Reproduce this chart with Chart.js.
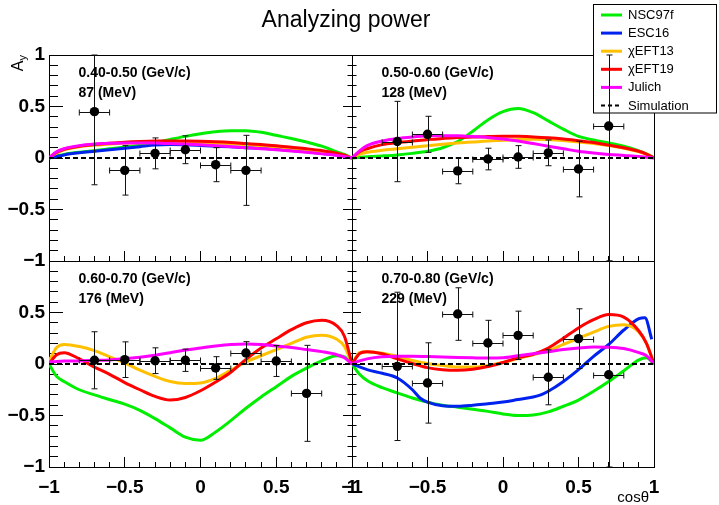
<!DOCTYPE html>
<html>
<head>
<meta charset="utf-8">
<title>Analyzing power</title>
<script src="https://cdn.jsdelivr.net/npm/chart.js@4.4.1/dist/chart.umd.min.js"></script>
<style>
  html, body { margin: 0; padding: 0; background: #fff; }
  #wrap { position: relative; width: 719px; height: 505px; overflow: hidden; font-family: 'Liberation Sans', Arial, sans-serif; color: #000; }
  #wrap canvas { position: absolute; left: 0; top: 0; }
  .txt { position: absolute; white-space: nowrap; line-height: 1; }
  .lab { font-size: 14px; font-weight: bold; }
</style>
</head>
<body>
<div id="wrap">
  <canvas id="p0" width="719" height="505"></canvas>
  <canvas id="p1" width="719" height="505"></canvas>
  <canvas id="p2" width="719" height="505"></canvas>
  <canvas id="p3" width="719" height="505"></canvas>
  <div class="txt" style="left:0;width:692px;top:8px;text-align:center;font-size:23px">Analyzing power</div>
  <div class="txt" style="left:9.8px;top:115px;width:60px;text-align:right;font-size:16px;line-height:16px;transform-origin:0 0;transform:rotate(-90deg)">A<span style="font-size:11px;position:relative;top:3px">y</span></div>
  <div class="txt" style="right:70px;top:489px;font-size:15px">cosθ</div>
</div>
<script>
// ---- data ----
const cosBins = [-0.7, -0.5, -0.3, -0.1, 0.1, 0.3, 0.5, 0.7];
const halfBin = 0.1;

const ay1 = [0.45, -0.12, 0.045, 0.08, -0.065, -0.12];
const err1 = [0.71, 0.24, 0.15, 0.135, 0.165, 0.34];
const ay2 = [0.16, 0.23, -0.125, -0.01, 0.01, 0.05, -0.107, 0.31];
const err2 = [0.39, 0.175, 0.125, 0.105, 0.11, 0.125, 0.27, 1.4];
const ay3 = [0.036, 0.042, 0.032, 0.036, -0.039, 0.107, 0.029, -0.285];
const err3 = [0.277, 0.173, 0.125, 0.108, 0.11, 0.11, 0.15, 0.466];
const ay4 = [-0.023, -0.184, 0.485, 0.204, 0.278, -0.129, 0.246, -0.104];
const err4 = [0.72, 0.39, 0.255, 0.22, 0.235, 0.267, 0.29, 1.25];

// model curves, sampled at these cos(theta) values
const grid = [-1, -0.95, -0.9, -0.8, -0.7, -0.6, -0.5, -0.4, -0.3, -0.2, -0.1, 0, 0.1, 0.2, 0.3, 0.4, 0.5, 0.6, 0.7, 0.8, 0.9, 0.95, 1];

const nsc1 = [0, 0.02, 0.035, 0.055, 0.07, 0.09, 0.105, 0.125, 0.15, 0.18, 0.21, 0.235, 0.255, 0.265, 0.265, 0.25, 0.22, 0.19, 0.155, 0.115, 0.06, 0.035, 0];
const esc1 = [0, 0.015, 0.03, 0.05, 0.065, 0.08, 0.095, 0.11, 0.125, 0.13, 0.128, 0.122, 0.115, 0.108, 0.1, 0.093, 0.085, 0.072, 0.06, 0.045, 0.028, 0.015, 0];
const eft13_1 = [0, 0.05, 0.08, 0.11, 0.125, 0.135, 0.145, 0.15, 0.155, 0.155, 0.155, 0.15, 0.145, 0.138, 0.13, 0.12, 0.11, 0.095, 0.08, 0.062, 0.04, 0.022, 0];
const eft19_1 = [0, 0.055, 0.085, 0.115, 0.13, 0.143, 0.153, 0.16, 0.165, 0.166, 0.165, 0.162, 0.157, 0.15, 0.14, 0.13, 0.12, 0.105, 0.09, 0.072, 0.047, 0.027, 0];
const jul1 = [0, 0.06, 0.09, 0.12, 0.135, 0.142, 0.145, 0.146, 0.145, 0.14, 0.135, 0.128, 0.12, 0.11, 0.1, 0.09, 0.08, 0.068, 0.055, 0.04, 0.025, 0.014, 0];

const nsc2 = [0, 0.008, 0.012, 0.02, 0.03, 0.045, 0.065, 0.1, 0.16, 0.26, 0.37, 0.45, 0.48, 0.44, 0.36, 0.28, 0.21, 0.175, 0.145, 0.115, 0.07, 0.04, 0];
const eft13_2 = [0, 0.035, 0.055, 0.075, 0.09, 0.105, 0.12, 0.133, 0.145, 0.155, 0.165, 0.172, 0.18, 0.182, 0.18, 0.17, 0.155, 0.14, 0.12, 0.095, 0.06, 0.035, 0];
const eft19_2 = [0, 0.06, 0.09, 0.13, 0.15, 0.165, 0.178, 0.19, 0.198, 0.205, 0.208, 0.21, 0.21, 0.205, 0.197, 0.185, 0.168, 0.15, 0.125, 0.1, 0.065, 0.038, 0];
const jul2 = [0, 0.07, 0.12, 0.165, 0.19, 0.205, 0.215, 0.217, 0.215, 0.208, 0.2, 0.185, 0.165, 0.14, 0.115, 0.09, 0.065, 0.048, 0.035, 0.025, 0.015, 0.008, 0];

const nsc3 = [0, -0.12, -0.17, -0.25, -0.3, -0.345, -0.39, -0.45, -0.53, -0.62, -0.71, -0.74, -0.66, -0.55, -0.43, -0.32, -0.22, -0.12, -0.04, 0.03, 0.08, 0.07, 0];
const eft13_3 = [0.03, 0.16, 0.19, 0.17, 0.13, 0.07, 0.01, -0.06, -0.12, -0.17, -0.19, -0.185, -0.14, -0.06, 0.02, 0.08, 0.14, 0.2, 0.26, 0.28, 0.24, 0.17, 0];
const eft19_3 = [0, 0.09, 0.11, 0.05, -0.03, -0.1, -0.18, -0.25, -0.315, -0.35, -0.325, -0.26, -0.175, -0.08, 0.045, 0.155, 0.245, 0.333, 0.4, 0.424, 0.37, 0.27, 0];
const jul3 = [0.02, 0.025, 0.028, 0.03, 0.035, 0.04, 0.05, 0.065, 0.085, 0.11, 0.135, 0.155, 0.175, 0.19, 0.195, 0.19, 0.175, 0.16, 0.14, 0.12, 0.09, 0.06, 0];

const nsc4 = [0, -0.1, -0.16, -0.23, -0.28, -0.33, -0.37, -0.4, -0.42, -0.44, -0.46, -0.485, -0.5, -0.495, -0.465, -0.41, -0.35, -0.265, -0.17, -0.065, 0.04, 0.06, 0];
const escX4 = [-1, -0.9, -0.8, -0.7, -0.6, -0.55, -0.5, -0.4, -0.3, -0.2, -0.1, 0, 0.1, 0.2, 0.25, 0.3, 0.4, 0.5, 0.6, 0.7, 0.8, 0.9, 0.94, 0.985];
const esc4 = [0, -0.055, -0.09, -0.136, -0.25, -0.33, -0.37, -0.405, -0.41, -0.4, -0.385, -0.37, -0.345, -0.32, -0.3, -0.265, -0.17, -0.055, 0.074, 0.19, 0.33, 0.44, 0.45, 0.24];
const eft13_4 = [0, 0.11, 0.12, 0.105, 0.075, 0.035, 0.005, -0.015, -0.03, -0.03, -0.015, 0.015, 0.055, 0.09, 0.13, 0.19, 0.25, 0.31, 0.365, 0.38, 0.31, 0.2, 0];
const eft19_4 = [0, 0.1, 0.12, 0.1, 0.05, 0.005, -0.035, -0.055, -0.06, -0.05, -0.025, 0.015, 0.06, 0.095, 0.155, 0.25, 0.35, 0.43, 0.48, 0.455, 0.32, 0.2, 0];
const jul4 = [0, 0.03, 0.05, 0.07, 0.075, 0.075, 0.072, 0.068, 0.063, 0.06, 0.058, 0.06, 0.08, 0.1, 0.12, 0.14, 0.155, 0.165, 0.163, 0.15, 0.11, 0.08, 0];

const simX = [-1, 1];
const simY = [0, 0];

const models = ['NSC97f', 'ESC16', 'χEFT13', 'χEFT19', 'Julich'];
const modelColors = ['#00ee00', '#0022ee', '#ffc000', '#ff0000', '#ff00ff'];
const momBins = ['0.40-0.50 (GeV/c)', '0.50-0.60 (GeV/c)', '0.60-0.70 (GeV/c)', '0.70-0.80 (GeV/c)'];
const energies = ['87 (MeV)', '128 (MeV)', '176 (MeV)', '229 (MeV)'];

const xTickVals = [-1, -0.5, 0, 0.5, 1];
const xTickText = ['\u22121', '\u22120.5', '0', '0.5', '1'];
const yTickVals = [-1, -0.5, 0, 0.5, 1];
const yTickText = ['\u22121', '\u22120.5', '0', '0.5', '1'];

// ---- panels ----
const W = 719, H = 505;
const frames = [[49, 55, 352, 261], [352, 55, 654, 261], [49, 261, 352, 467], [352, 261, 654, 467]];
const panels = [
  {bins: cosBins.slice(0, 6), ay: ay1, err: err1, curves: [[grid, nsc1], [grid, esc1], [grid, eft13_1], [grid, eft19_1], [grid, jul1]]},
  {bins: cosBins, ay: ay2, err: err2, curves: [[grid, nsc2], null, [grid, eft13_2], [grid, eft19_2], [grid, jul2]]},
  {bins: cosBins, ay: ay3, err: err3, curves: [[grid, nsc3], null, [grid, eft13_3], [grid, eft19_3], [grid, jul3]]},
  {bins: cosBins, ay: ay4, err: err4, curves: [[grid, nsc4], [escX4, esc4], [grid, eft13_4], [grid, eft19_4], [grid, jul4]]}
];

const tickFont = {family: "'Liberation Sans', Arial, sans-serif", size: 19, weight: 'bold'};

function pairs(xs, ys) {
  return xs.map((x, i) => ({x: x, y: ys[i]}));
}

// error bars with end caps, drawn under the markers
const errorBars = {
  id: 'errorBars',
  beforeDatasetDraw(chart, args) {
    const ds = chart.data.datasets[args.index];
    if (!ds.yErr) return;
    const ctx = chart.ctx, a = chart.chartArea;
    const xs = chart.scales.x, ys = chart.scales.y;
    const cl = v => Math.min(Math.max(v, a.top), a.bottom);
    ctx.save();
    ctx.strokeStyle = '#111';
    ctx.lineWidth = 1;
    ctx.beginPath();
    ds.data.forEach((p, i) => {
      const px = Math.round(xs.getPixelForValue(p.x)) + 0.5;
      const py = Math.round(ys.getPixelForValue(p.y)) + 0.5;
      const xl = xs.getPixelForValue(p.x - ds.xErr[i]);
      const xr = xs.getPixelForValue(p.x + ds.xErr[i]);
      const yt = cl(ys.getPixelForValue(p.y + ds.yErr[i]));
      const yb = cl(ys.getPixelForValue(p.y - ds.yErr[i]));
      ctx.moveTo(xl, py); ctx.lineTo(xr, py);
      ctx.moveTo(xl, py - 3); ctx.lineTo(xl, py + 3);
      ctx.moveTo(xr, py - 3); ctx.lineTo(xr, py + 3);
      ctx.moveTo(px, yt); ctx.lineTo(px, yb);
      ctx.moveTo(px - 3, yt); ctx.lineTo(px + 3, yt);
      ctx.moveTo(px - 3, yb); ctx.lineTo(px + 3, yb);
    });
    ctx.stroke();
    ctx.restore();
  }
};

// ROOT-like legend box in the top right corner
const legendBox = {
  id: 'legendBox',
  beforeDatasetsDraw(chart) {
    const ctx = chart.ctx;
    ctx.save();
    ctx.fillStyle = '#fff';
    ctx.fillRect(593.5, 4.5, 123, 108.5);
    ctx.strokeStyle = '#000';
    ctx.lineWidth = 1;
    ctx.strokeRect(593.5, 4.5, 123, 108.5);
    const rows = models.concat(['Simulation']);
    rows.forEach((name, i) => {
      const cy = 15 + i * 18.1;
      ctx.strokeStyle = i < 5 ? modelColors[i] : '#000';
      ctx.lineWidth = i < 5 ? 3 : 2;
      ctx.setLineDash(i < 5 ? [] : [4, 3]);
      ctx.beginPath();
      ctx.moveTo(601, cy);
      ctx.lineTo(622, cy);
      ctx.stroke();
      ctx.setLineDash([]);
      ctx.fillStyle = '#000';
      ctx.font = "13px 'Liberation Sans', Arial, sans-serif";
      ctx.textBaseline = 'middle';
      ctx.fillText(name, 628, cy + 0.5);
    });
    ctx.restore();
  }
};

// every axis has zero size except the labelled ones, which fill the page margin
function buildScales(col, row, f) {
  const leftCol = col === 0, bottomRow = row === 1;
  const sized = (w, h) => s => { s.width = w; s.height = h; };
  const base = (axis, position, weight) => ({
    type: 'linear', axis: axis, position: position, min: -1, max: 1, weight: weight, afterFit: sized(0, 0),
    ticks: {display: false}, grid: {display: false}, border: {display: false}
  });
  const ticked = (axis, position, len, step, weight) => {
    const s = base(axis, position, weight);
    s.grid = {display: true, drawOnChartArea: false, drawTicks: true, tickLength: -len, tickColor: '#000', tickWidth: 1};
    if (step) s.ticks.stepSize = step;
    return s;
  };
  const frameLine = {display: true, color: '#000', width: 1};
  const scales = {};

  scales.x = ticked('x', 'bottom', 10, 0, 2);
  scales.x.afterBuildTicks = s => { s.ticks = xTickVals.map(v => ({value: v})); };
  scales.x.border = frameLine;
  if (bottomRow) {
    scales.x.afterFit = sized(0, H - f[3]);
    scales.x.ticks = {display: true, padding: 19, autoSkip: false, maxRotation: 0, color: '#000', font: tickFont,
                      callback: (v, i) => xTickText[i]};
  }
  scales.xm = ticked('x', 'bottom', 5, 0.1, 0);
  scales.xt = base('x', 'top', 0);
  scales.xt.border = frameLine;

  scales.y = ticked('y', 'left', leftCol ? 14 : 9, 0, 2);
  scales.y.afterBuildTicks = s => { s.ticks = yTickVals.map(v => ({value: v})); };
  scales.y.border = frameLine;
  if (leftCol) {
    scales.y.afterFit = sized(f[0], 0);
    scales.y.ticks = {display: true, padding: 18, autoSkip: false, color: '#000', font: tickFont, callback: (v, i) => yTickText[i]};
  }
  scales.ym = ticked('y', 'left', leftCol ? 9 : 4.5, 0.1, 0);

  if (leftCol) {
    scales.yr = ticked('y', 'right', 9, 0, 2);
    scales.yr.afterBuildTicks = s => { s.ticks = yTickVals.map(v => ({value: v})); };
    scales.yr.border = frameLine;
    scales.yrm = ticked('y', 'right', 4.5, 0.1, 0);
  } else {
    scales.yr = base('y', 'right', 0);
    scales.yr.border = frameLine;
  }
  return scales;
}

function buildDatasets(p) {
  const sets = [];
  sets.push({
    label: 'data', data: pairs(p.bins, p.ay), yErr: p.err, xErr: p.bins.map(() => halfBin),
    xAxisID: 'x', yAxisID: 'y', showLine: false, pointRadius: 4.7, pointBorderWidth: 0,
    pointBackgroundColor: '#000', pointBorderColor: '#000', order: 0
  });
  sets.push({
    label: 'Simulation', data: pairs(simX, simY), xAxisID: 'x', yAxisID: 'y',
    borderColor: '#000', borderWidth: 2, borderDash: [5, 3], pointRadius: 0, order: 1
  });
  p.curves.forEach((c, k) => {
    if (!c) return;
    sets.push({
      label: models[k], data: pairs(c[0], c[1]), xAxisID: 'x', yAxisID: 'y',
      borderColor: modelColors[k], borderWidth: 3, pointRadius: 0,
      cubicInterpolationMode: 'monotone', order: 6 - k
    });
  });
  return sets;
}

const wrap = document.getElementById('wrap');
panels.forEach((p, i) => {
  const f = frames[i];
  const col = i % 2, row = Math.floor(i / 2);
  const pad = {left: f[0], top: f[1], right: W - f[2], bottom: H - f[3]};
  if (col === 0) pad.left = 0;      // the y labels axis fills this margin
  if (row === 1) pad.bottom = 0;    // the x labels axis fills this margin
  new Chart(document.getElementById('p' + i), {
    type: 'line',
    data: {datasets: buildDatasets(p)},
    options: {
      responsive: false,
      animation: false,
      devicePixelRatio: 1,
      events: [],
      layout: {padding: pad},
      scales: buildScales(col, row, f),
      plugins: {legend: {display: false}, tooltip: {enabled: false}}
    },
    plugins: i === 1 ? [errorBars, legendBox] : [errorBars]
  });

  const l1 = document.createElement('div');
  l1.className = 'txt lab';
  l1.style.left = (f[0] + 29.5) + 'px';
  l1.style.top = (f[1] + 9.5) + 'px';
  l1.textContent = momBins[i];
  wrap.appendChild(l1);
  const l2 = document.createElement('div');
  l2.className = 'txt lab';
  l2.style.left = (f[0] + 29.5) + 'px';
  l2.style.top = (f[1] + 30) + 'px';
  l2.textContent = energies[i];
  wrap.appendChild(l2);
});
</script>
</body>
</html>
